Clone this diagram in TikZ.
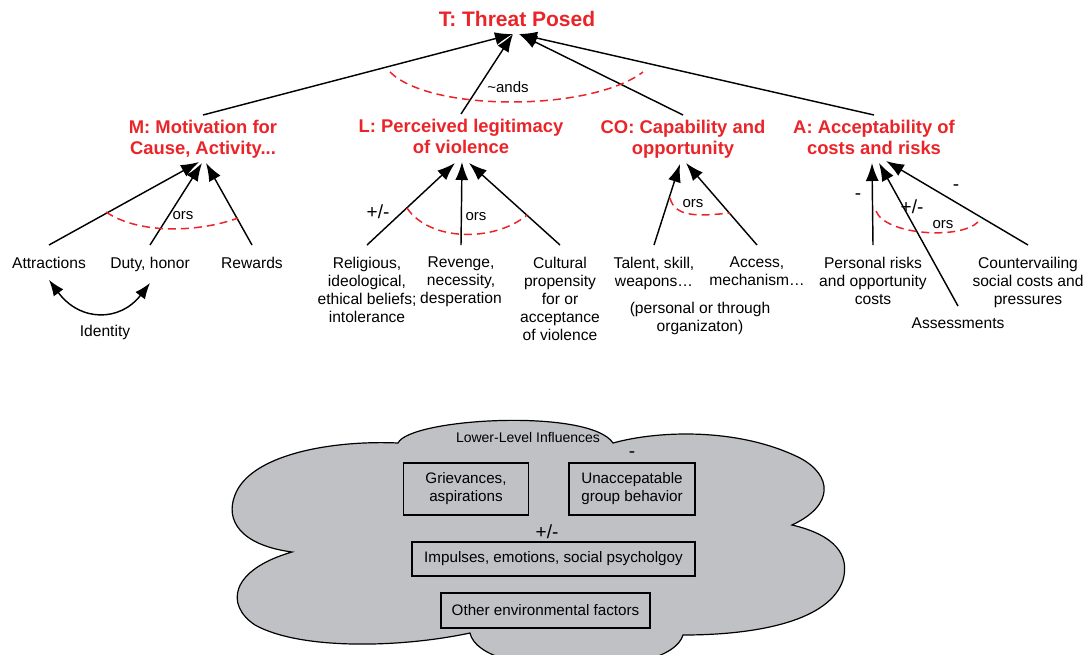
\documentclass[tikz,border=0pt]{standalone}
\usepackage{fontspec}
\setmainfont{Liberation Sans}
\usetikzlibrary{arrows.meta,positioning}
\definecolor{headred}{RGB}{234,36,40}
\definecolor{cloudgray}{RGB}{192,193,196}

\begin{document}
\begin{tikzpicture}[x=0.5pt,y=-0.5pt,>={Latex[length=9pt,width=6.5pt]},line width=0.72pt]
	\tikzstyle{head}=[text=headred, font=\fontsize{9.2}{10.5}\selectfont\bfseries, align=center, anchor=north, inner ysep=2pt]
	\tikzstyle{leaf}=[font=\fontsize{7.8}{9}\selectfont, align=center, anchor=north, inner ysep=5.5pt]
	\tikzstyle{sign}=[font=\fontsize{9.5}{10}\selectfont, inner sep=0pt]
	\tikzstyle{orlabel}=[font=\fontsize{7.5}{9}\selectfont, inner sep=0pt]
	\tikzstyle{orarc}=[draw=headred, dash pattern=on 4pt off 2.5pt, line width=0.75pt]
	\tikzstyle{influence}=[draw, line width=0.55pt, font=\fontsize{7.6}{9}\selectfont, align=center, inner sep=0pt]

	\useasboundingbox (0,0) rectangle (1086,654);
	\clip (0,0) rectangle (1086,654);

	% goal and the four factors
	\node [text=headred, font=\fontsize{10.5}{12}\selectfont\bfseries] (t) at (517,19) {T: Threat Posed};
	\node [head] (m) at (203,115) {M: Motivation for\\Cause, Activity...};
	\node [head] (l) at (461,114) {L: Perceived legitimacy\\of violence};
	\node [head] (co) at (683,115) {CO: Capability and\\opportunity};
	\node [head] (a) at (874,115) {A: Acceptability of\\costs and risks};
	\coordinate (tl) at (513,34);
	\coordinate (tr) at (519,34);
	\draw [->] (m.north) -- (tl);
	\draw [->] (l.north) -- (tl);
	\draw [->] (co.north) -- (tr);
	\draw [->] (a.north) -- (tr);
	\draw [orarc] (390,72) .. controls (430,112) and (590,112) .. (643,72);
	\node [orlabel] (ands) at (508,87) {\textasciitilde ands};

	% motivation
	\node [leaf] (attr) at (49,245) {Attractions};
	\node [leaf] (duty) at (150,245) {Duty, honor};
	\node [leaf] (rew) at (252,245) {Rewards};
	\node [leaf, anchor=center] (ident) at (105,332) {Identity};
	\coordinate (mA) at (199,162);
	\coordinate (mB) at (202,163);
	\coordinate (mC) at (206,163);
	\draw [->] (attr.north) -- (mA);
	\draw [->] (duty.north) -- (mB);
	\draw [->] (rew.north) -- (mC);
	\draw [orarc] (106,212) .. controls (140,235) and (200,232) .. (238,218);
	\node [orlabel] (orsm) at (183,216) {ors};
	\draw [<->, >={Latex[length=8pt,width=6pt]}] (attr.south) .. controls (80,322) and (120,322) .. (duty.south);

	% legitimacy
	\node [leaf] (rel) at (367,245) {Religious,\\ideological,\\ethical beliefs;\\intolerance};
	\node [leaf] (rev) at (461,245) {Revenge,\\necessity,\\desperation};
	\node [leaf] (cult) at (560,245) {Cultural\\propensity\\for or\\acceptance\\of violence};
	\coordinate (lA) at (455,163);
	\coordinate (lB) at (462,162);
	\coordinate (lC) at (469,163);
	\draw [->] (rel.north) -- (lA);
	\draw [->] (rev.north) -- (lB);
	\draw [->] (cult.north) -- (lC);
	\draw [orarc] (407,208) .. controls (430,242) and (495,242) .. (527,215);
	\node [orlabel] (orsl) at (476,217) {ors};
	\node [sign] (pml) at (378,212) {+/-};

	% capability
	\node [leaf] (tal) at (654,245) {Talent, skill,\\weapons…};
	\node [leaf] (acc) at (757,245) {Access,\\mechanism…};
	\node [leaf, anchor=center] (via) at (700,318) {(personal or through\\organizaton)};
	\coordinate (coA) at (680,164);
	\coordinate (coB) at (686,163);
	\draw [->] (tal.north) -- (coA);
	\draw [->] (acc.north) -- (coB);
	\draw [orarc] (670,198) .. controls (675,218) and (700,216) .. (730,213);
	\node [orlabel] (orsco) at (693,204) {ors};

	% acceptability
	\node [leaf] (pers) at (873,245) {Personal risks\\and opportunity\\costs};
	\node [leaf] (asse) at (958,306) {Assessments};
	\node [leaf] (count) at (1028,245) {Countervailing\\social costs and\\pressures};
	\coordinate (aA) at (872,163);
	\coordinate (aB) at (879,163);
	\coordinate (aC) at (886,161);
	\draw [->] (pers.north) -- (aA);
	\draw [->] (asse.north) -- (aB);
	\draw [->] (count.north) -- (aC);
	\draw [orarc] (876,211) .. controls (885,235) and (960,240) .. (978,222);
	\node [orlabel] (orsa) at (943,225) {ors};
	\node [sign] (ma) at (858,197) {-};
	\node [sign] (pma) at (912,207) {+/-};
	\node [sign] (mc) at (956,188) {-};

	% lower-level influences
	\draw [fill=cloudgray, line width=0.6pt] (398,443)
		.. controls (410,418) and (590,408) .. (613,443)
		.. controls (660,430) and (740,428) .. (800,458)
		.. controls (832,475) and (835,505) .. (792,525)
		.. controls (835,535) and (850,555) .. (843,580)
		.. controls (830,620) and (760,635) .. (683,635)
		.. controls (670,680) and (480,680) .. (470,633)
		.. controls (400,648) and (300,650) .. (255,625)
		.. controls (225,605) and (230,570) .. (292,552)
		.. controls (240,545) and (225,520) .. (235,495)
		.. controls (250,455) and (330,440) .. (398,443) -- cycle;
	\node [font=\fontsize{7}{8}\selectfont] (low) at (528,437) {Lower-Level Influences};
	\node [influence, minimum width=62.5pt, minimum height=26pt] (griev) at (466,489) {Grievances,\\aspirations};
	\node [influence, minimum width=63pt, minimum height=26pt] (unacc) at (632,489) {Unaccepatable\\group behavior};
	\node [influence, minimum width=141.5pt, minimum height=17pt] (imp) at (553.5,559) {Impulses, emotions, social psycholgoy};
	\node [influence, minimum width=104.5pt, minimum height=17.5pt] (other) at (545.5,610.5) {Other environmental factors};
	\node [sign] (mu) at (632,455) {-};
	\node [sign] (pmi) at (547,532) {+/-};
\end{tikzpicture}
\end{document}
